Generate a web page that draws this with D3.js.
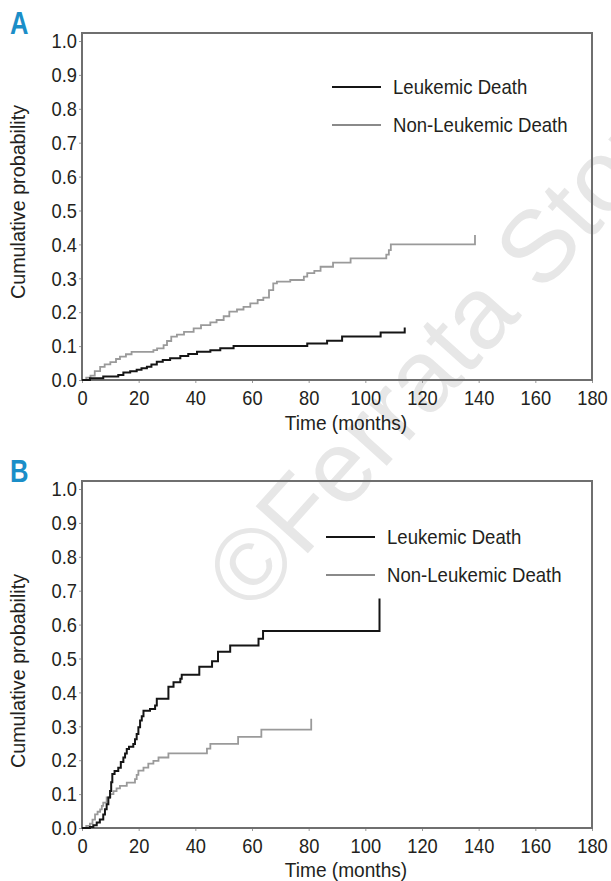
<!DOCTYPE html>
<html>
<head>
<meta charset="utf-8">
<script src="https://cdn.jsdelivr.net/npm/d3@7"></script>
<style>
  body { margin: 0; background: #fff; }
  text { font-family: "Liberation Sans", Arial, sans-serif; fill: #231f20; }
</style>
</head>
<body>
<div class="canva"></div>
<script>
// cumulative incidence, panel A
var aLeukTime = [0, 2.8, 7.5, 12.8, 14.6, 17, 19.3, 21, 22.9, 24.5, 26.4, 28.5, 31.1, 34.7, 37.5, 40.6, 45.3, 48.8, 53.5, 79.5, 86.5, 91.8, 105.4, 113.9, 113.9];
var aLeukCum  = [0, 0.005, 0.01, 0.015, 0.022, 0.026, 0.03, 0.035, 0.039, 0.046, 0.054, 0.059, 0.064, 0.071, 0.077, 0.083, 0.088, 0.094, 0.1, 0.108, 0.116, 0.128, 0.14, 0.14, 0.155];

var aNonTime = [0, 1.5, 3, 4.5, 6.4, 8, 10, 12, 13.4, 15.5, 17.5, 25.2, 26.5, 28.8, 30, 31.5, 33.5, 36, 39.4, 42, 45.3, 47.5, 50, 52, 54.7, 57, 59.4, 62, 64, 66, 67.5, 68.8, 73.5, 78.3, 79.5, 82, 84.2, 88.6, 94.8, 107.4, 108.3, 109, 111.3, 138.7, 138.7];
var aNonCum  = [0, 0.007, 0.013, 0.026, 0.039, 0.046, 0.053, 0.062, 0.069, 0.076, 0.083, 0.088, 0.093, 0.103, 0.115, 0.128, 0.134, 0.142, 0.152, 0.162, 0.17, 0.177, 0.188, 0.2015, 0.208, 0.216, 0.226, 0.236, 0.243, 0.265, 0.285, 0.29, 0.295, 0.305, 0.315, 0.322, 0.334, 0.346, 0.359, 0.37, 0.383, 0.4, 0.4, 0.4, 0.428];

// panel B
var bLeukTime = [0, 2.8, 4, 5.2, 6.3, 7.5, 8.1, 8.7, 9.3, 9.9, 10.3, 10.7, 11.5, 12.8, 13.7, 14.6, 15.2, 15.8, 16.6, 18.1, 18.7, 19.3, 19.9, 20.5, 21.1, 21.7, 24, 25.8, 26.4, 30.5, 32.3, 34.7, 35.2, 41.4, 45.9, 48, 52.3, 62.3, 63.9, 105, 105];
var bLeukCum  = [0, 0.003, 0.008, 0.016, 0.025, 0.04, 0.055, 0.07, 0.09, 0.109, 0.135, 0.159, 0.168, 0.178, 0.195, 0.208, 0.22, 0.233, 0.24, 0.248, 0.262, 0.277, 0.297, 0.317, 0.33, 0.346, 0.351, 0.361, 0.381, 0.417, 0.43, 0.44, 0.452, 0.476, 0.492, 0.52, 0.538, 0.558, 0.581, 0.581, 0.677];

var bNonTime = [0, 1.5, 2.8, 3.7, 4.6, 5.5, 6.4, 7, 7.5, 8.7, 10, 11.1, 12.2, 13.4, 15.8, 18.7, 19.3, 19.9, 21.7, 23.4, 25.2, 27, 30.5, 44.1, 45.3, 55.1, 63.3, 80.9, 80.9];
var bNonCum  = [0, 0.006, 0.013, 0.025, 0.04, 0.048, 0.055, 0.065, 0.075, 0.09, 0.1, 0.109, 0.117, 0.124, 0.134, 0.144, 0.157, 0.169, 0.178, 0.19, 0.198, 0.208, 0.22, 0.234, 0.248, 0.269, 0.29, 0.29, 0.322];

var xTicks = [0, 20, 40, 60, 80, 100, 120, 140, 160, 180];
var yTicks = [0, 0.1, 0.2, 0.3, 0.4, 0.5, 0.6, 0.7, 0.8, 0.9, 1.0];
var seriesNames = ['Leukemic Death', 'Non-Leukemic Death'];
var panelLabels = ['A', 'B'];

const svg = d3.select('.canva').append('svg')
    .attr('width', 611)
    .attr('height', 881);

// squeeze text horizontally (no condensed font installed)
function condense(sel, k) {
  sel.each(function() {
    const w = this.getComputedTextLength();
    d3.select(this).attr('textLength', w * k).attr('lengthAdjust', 'spacingAndGlyphs');
  });
}

// watermark behind everything
svg.append('text')
    .attr('transform', 'translate(226,592) rotate(-48)')
    .attr('dominant-baseline', 'central')
    .style('font-size', '102px')
    .style('fill', '#e7e7e7')
    .text('\u00a9Ferrata Storti Foundation');

const margin = {left: 82, right: 19};
const plotW = 611 - margin.left - margin.right;
const plotH = 347;

var x = d3.scaleLinear().domain([0, 180]).range([0, plotW]);
var y = d3.scaleLinear().domain([0, 1]).range([plotH, 8]);

var line = d3.line()
    .x(d => x(d[0]))
    .y(d => y(d[1]))
    .curve(d3.curveStepAfter);

function drawPanel(top, label, leuk, non, legend) {
  const g = svg.append('g').attr('transform', `translate(${margin.left},${top})`);

  // panel letter
  svg.append('text')
      .attr('x', 10).attr('y', top + 1)
      .style('font-size', '32px')
      .style('font-weight', 'bold')
      .style('fill', '#1b8ec8')
      .text(label)
      .call(condense, 0.8);

  var xAxis = d3.axisBottom(x).tickValues(xTicks).tickSize(3).tickPadding(7);
  var yAxis = d3.axisLeft(y).tickValues(yTicks).tickFormat(d3.format('.1f')).tickSize(3).tickPadding(2);

  const gx = g.append('g').attr('transform', `translate(0,${plotH})`).call(xAxis);
  const gy = g.append('g').call(yAxis);
  [gx, gy].forEach(a => {
    a.select('.domain').remove();
    a.selectAll('line').attr('stroke', '#999');
    a.selectAll('text')
        .style('font-size', '21px')
        .style('font-family', '"Liberation Sans", Arial, sans-serif')
        .attr('fill', '#231f20')
        .call(condense, 0.87);
  });

  // frame
  g.append('rect')
      .attr('x', 0).attr('y', 0)
      .attr('width', plotW).attr('height', plotH)
      .attr('fill', 'none')
      .attr('stroke', '#6f6f6f')
      .attr('stroke-width', 2);

  g.append('path')
      .datum(d3.zip(non[0], non[1]))
      .attr('fill', 'none')
      .attr('stroke', '#9a9a9a')
      .attr('stroke-width', 1.8)
      .attr('d', line);

  g.append('path')
      .datum(d3.zip(leuk[0], leuk[1]))
      .attr('fill', 'none')
      .attr('stroke', '#151515')
      .attr('stroke-width', 2)
      .attr('d', line);

  // legend
  const lg = g.append('g').attr('transform', `translate(${legend[0]},${legend[1]})`);
  seriesNames.forEach((s, i) => {
    lg.append('line')
        .attr('x1', 0).attr('x2', 49)
        .attr('y1', i * 38).attr('y2', i * 38)
        .attr('stroke', i == 0 ? '#151515' : '#8a8a8a')
        .attr('stroke-width', 2);
    lg.append('text')
        .attr('x', 61).attr('y', i * 38)
        .attr('dy', '0.35em')
        .style('font-size', '21px')
        .text(s)
        .call(condense, 0.885);
  });

  // axis titles
  g.append('text')
      .attr('x', 264).attr('y', plotH + legend[3])
      .attr('dy', '0.35em')
      .attr('text-anchor', 'middle')
      .style('font-size', '21px')
      .text('Time (months)')
      .call(condense, 0.91);

  g.append('text')
      .attr('transform', `translate(-64,${legend[2]}) rotate(-90)`)
      .attr('dy', '0.35em')
      .attr('text-anchor', 'middle')
      .style('font-size', '21px')
      .text('Cumulative probability')
      .call(condense, 0.94);
}

drawPanel(33, panelLabels[0], [aLeukTime, aLeukCum], [aNonTime, aNonCum], [250, 54, 169, 43]);
drawPanel(481, panelLabels[1], [bLeukTime, bLeukCum], [bNonTime, bNonCum], [244, 56, 190, 42]);
</script>
</body>
</html>
